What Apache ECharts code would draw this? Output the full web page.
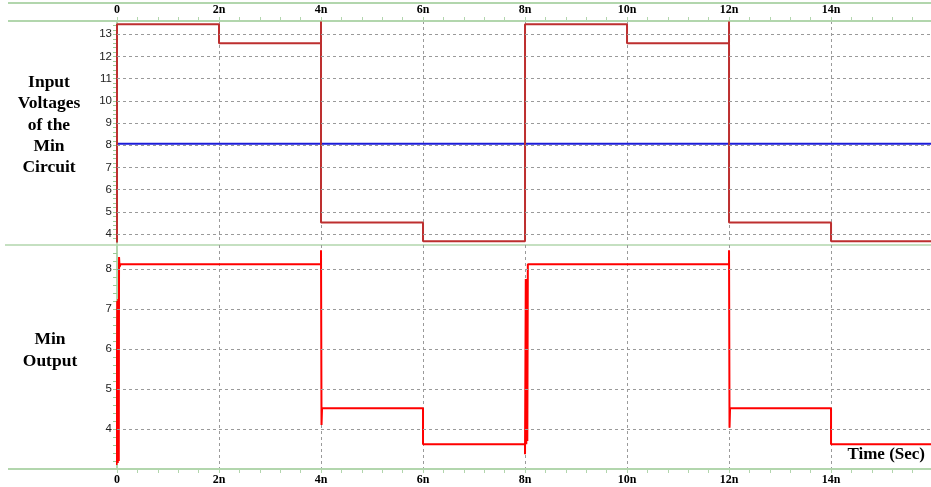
<!DOCTYPE html>
<html>
<head>
<meta charset="utf-8">
<script src="https://cdn.jsdelivr.net/npm/echarts@6/dist/echarts.min.js"></script>
<style>
  html, body { margin: 0; padding: 0; background: #ffffff; }
  #chart { width: 931px; height: 487px; }
</style>
</head>
<body>
<div id="chart"></div>
<script>
// Time axis (ns) and tick labels
const timeTicks = [0, 2, 4, 6, 8, 10, 12, 14];
const timeMax = 15.96;

// Input panel: labelled voltage levels
const inputTicks = [4, 5, 6, 7, 8, 9, 10, 11, 12, 13];
// Output panel: labelled voltage levels
const outputTicks = [4, 5, 6, 7, 8];

// Input A: stepped waveform [time ns, volts]
const inputA = [
  [0, 3.62], [0, 13.45], [2, 13.45], [2, 12.6], [4, 12.6], [4, 13.58], [4, 4.52],
  [6, 4.52], [6, 3.68], [8, 3.68], [8, 13.45], [10, 13.45], [10, 12.6],
  [12, 12.6], [12, 13.58], [12, 4.52], [14, 4.52], [14, 3.68], [15.96, 3.68]
];
// Input B: constant level [time ns, volts]
const inputB = [[0, 8.07], [15.96, 8.07]];

// Min circuit output with switching glitches [time ns, volts]
const minOut = [
  [-0.01, 3.1], [0.005, 7.2], [0.015, 3.15], [0.025, 7.25], [0.035, 3.2], [0.04, 8.3],
  [0.05, 8.05], [0.07, 8.12], [4, 8.12], [4, 8.47], [4.01, 4.1], [4.02, 4.52],
  [6, 4.52], [6, 3.62], [8, 3.62], [8, 3.37], [8.015, 7.75], [8.025, 3.62],
  [8.035, 7.7], [8.045, 3.7], [8.055, 8.12], [12, 8.12], [12, 8.47], [12.01, 4.03],
  [12.02, 4.52], [14, 4.52], [14, 3.62], [15.96, 3.62]
];

const GREEN = '#b2d6ad';
const GRIDC = '#9a9a9a';
const serif = '"Liberation Serif", "Times New Roman", serif';
const sans = '"Liberation Sans", Arial, sans-serif';

function timeLabel(v) { return v === 0 ? '0' : v + 'n'; }
function intOnly(v) { return Math.abs(v - Math.round(v)) < 1e-6 ? String(Math.round(v)) : ''; }

function xAxisFor(grid, pos) {
  return {
    type: 'value', gridIndex: grid, position: pos,
    min: 0, max: timeMax, interval: 2,
    axisLine: { show: true, lineStyle: { color: GREEN, width: 2 } },
    axisTick: { show: true, length: 4, lineStyle: { color: GREEN } },
    minorTick: { show: true, splitNumber: 5, length: 4, lineStyle: { color: GREEN } },
    axisLabel: {
      formatter: timeLabel, showMaxLabel: false, margin: 5,
      fontFamily: serif, fontWeight: 'bold', fontSize: 12, color: '#000'
    },
    splitLine: { show: true, lineStyle: { color: GRIDC, type: [3, 3], width: 1 } }
  };
}

function yAxisFor(grid, min, max) {
  return {
    type: 'value', gridIndex: grid, min: min, max: max, interval: 0.2,
    axisLine: { show: true, lineStyle: { color: GREEN, width: 2 } },
    axisTick: { show: true, length: 4, lineStyle: { color: '#9cc996' } },
    axisLabel: {
      formatter: intOnly, showMinLabel: false, showMaxLabel: false, margin: 5,
      fontFamily: sans, fontSize: 11.5, color: '#222'
    },
    splitLine: { show: false }
  };
}

function hGrid(ticks) {
  return {
    silent: true, symbol: 'none', animation: false,
    label: { show: false },
    lineStyle: { color: GRIDC, type: [3, 3], width: 1 },
    data: ticks.map(v => ({ yAxis: v }))
  };
}

const chart = echarts.init(document.getElementById('chart'), null, { renderer: 'canvas' });

chart.setOption({
  animation: false,
  backgroundColor: '#ffffff',
  grid: [
    { left: 117, right: 0, top: 21, height: 222 },
    { left: 117, right: 0, top: 245, height: 224 }
  ],
  xAxis: [xAxisFor(0, 'top'), xAxisFor(1, 'bottom')],
  yAxis: [yAxisFor(0, 3.6, 13.6), yAxisFor(1, 3.0, 8.6)],
  series: [
    {
      type: 'line', xAxisIndex: 0, yAxisIndex: 0, data: inputB,
      showSymbol: false, lineStyle: { color: '#1c1cd8', width: 2 }, z: 3,
      markLine: hGrid(inputTicks)
    },
    {
      type: 'line', xAxisIndex: 0, yAxisIndex: 0, data: inputA,
      showSymbol: false, lineStyle: { color: '#bd2f2f', width: 2 }, z: 4
    },
    {
      type: 'line', xAxisIndex: 1, yAxisIndex: 1, data: minOut,
      showSymbol: false, lineStyle: { color: '#ff0000', width: 2 }, z: 4,
      markLine: hGrid(outputTicks)
    }
  ],
  graphic: [
    { type: 'line', z: -1, shape: { x1: 8, y1: 3, x2: 931, y2: 3 }, style: { stroke: GREEN, lineWidth: 2 } },
    { type: 'line', z: -1, shape: { x1: 8, y1: 21, x2: 117, y2: 21 }, style: { stroke: GREEN, lineWidth: 2 } },
    { type: 'line', z: -1, shape: { x1: 5, y1: 245, x2: 931, y2: 245 }, style: { stroke: GREEN, lineWidth: 1.5 } },
    { type: 'line', z: -1, shape: { x1: 8, y1: 469, x2: 117, y2: 469 }, style: { stroke: GREEN, lineWidth: 2 } },
    {
      type: 'text', z: 10,
      style: {
        x: 49, y: 72, text: 'Input\nVoltages\nof the\nMin\nCircuit',
        align: 'center', verticalAlign: 'top', lineHeight: 21.3,
        font: 'bold 17.5px ' + serif, fill: '#000'
      }
    },
    {
      type: 'text', z: 10,
      style: {
        x: 50, y: 329, text: 'Min\nOutput',
        align: 'center', verticalAlign: 'top', lineHeight: 21.5,
        font: 'bold 17.5px ' + serif, fill: '#000'
      }
    },
    {
      type: 'text', z: 10,
      style: {
        x: 925, y: 446, text: 'Time (Sec)',
        align: 'right', verticalAlign: 'top',
        font: 'bold 17px ' + serif, fill: '#000'
      }
    }
  ]
});
</script>
</body>
</html>
